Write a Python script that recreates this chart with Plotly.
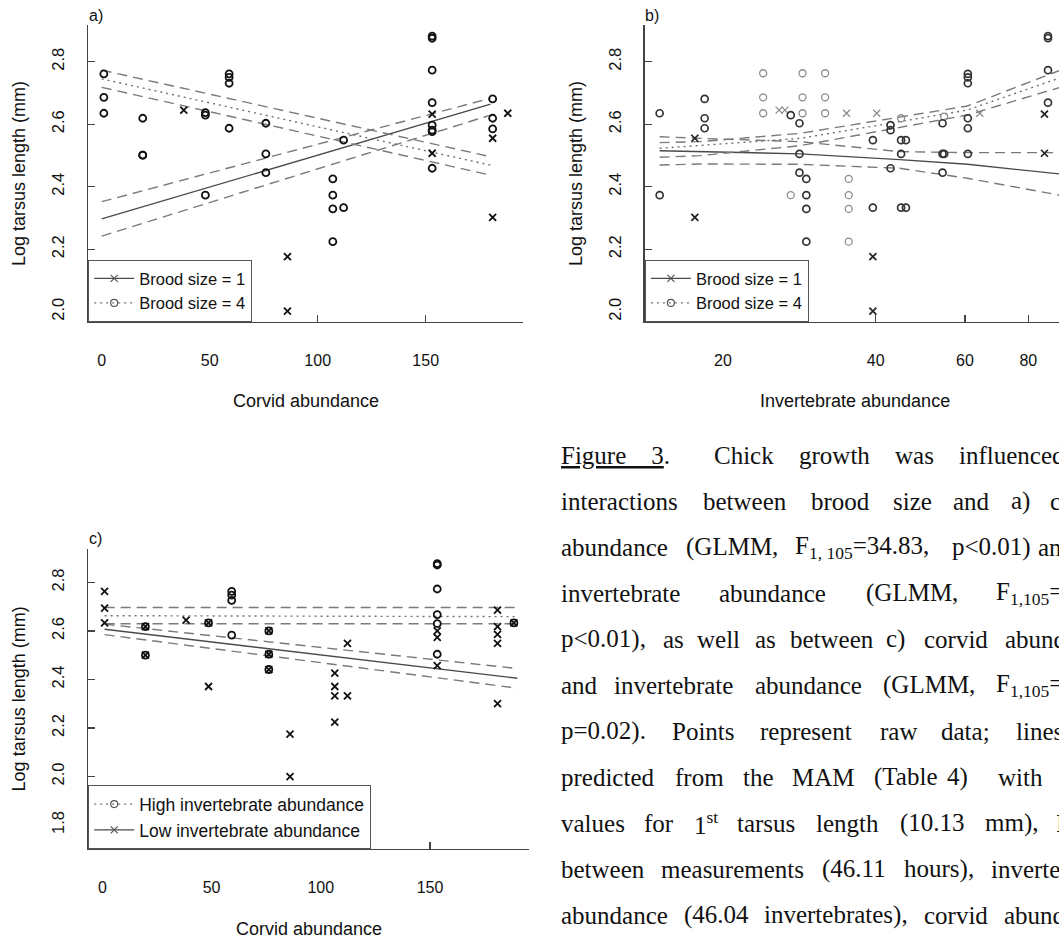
import plotly.graph_objects as go

W, H = 1059, 942
SANS = "Liberation Sans, Arial, sans-serif"
SERIF = "Liberation Serif, Times New Roman, serif"

# ---------------- data: panel a (corvid abundance, by brood size) ----------------
a_b1_x = [38, 86, 86, 153, 153, 181, 181, 188]
a_b1_y = [2.645, 2.176, 2.002, 2.632, 2.507, 2.555, 2.302, 2.635]
a_b4_x = [1, 1, 1, 19, 19, 19, 48, 48, 48, 59, 59, 59, 59, 76, 76, 76,
          107, 107, 107, 107, 112, 112, 153, 153, 153, 153, 153, 153, 153, 153,
          181, 181, 181]
a_b4_y = [2.761, 2.686, 2.635, 2.619, 2.501, 2.501, 2.637, 2.629, 2.373,
          2.761, 2.750, 2.731, 2.587, 2.603, 2.505, 2.445,
          2.425, 2.373, 2.329, 2.224, 2.549, 2.333,
          2.882, 2.875, 2.773, 2.669, 2.597, 2.581, 2.576, 2.459,
          2.681, 2.619, 2.585]
a_fit_x = [0, 180]
a_b1_fit = [2.297, 2.664]
a_b1_hi = [2.352, 2.683]
a_b1_lo = [2.242, 2.629]
a_b4_fit = [2.745, 2.469]
a_b4_hi = [2.773, 2.496]
a_b4_lo = [2.718, 2.437]

# ---------------- data: panel b (invertebrate abundance, by brood size) ----------------
b_o_dark_x = [15.0, 15.0, 18.4, 18.4, 18.4, 28.3, 28.3, 28.3, 29.2, 29.2, 29.2, 29.2, 27.2,
              39.5, 39.5, 42.8, 42.8, 42.8, 44.9, 45.9, 44.9, 44.9, 45.9,
              54.2, 54.2, 54.6, 54.2, 60.8, 60.8, 60.8, 60.8, 60.8, 60.8,
              87.5, 87.5, 87.5, 87.5]
b_o_dark_y = [2.635, 2.373, 2.681, 2.619, 2.587, 2.603, 2.505, 2.445, 2.425, 2.373, 2.329, 2.224, 2.629,
              2.549, 2.333, 2.597, 2.581, 2.459, 2.549, 2.549, 2.505, 2.333, 2.333,
              2.603, 2.505, 2.505, 2.445, 2.761, 2.750, 2.731, 2.619, 2.587, 2.505,
              2.882, 2.875, 2.773, 2.669]
b_o_gray_x = [24.0, 24.0, 24.0, 27.2, 28.7, 28.7, 28.7, 31.8, 31.8, 31.8,
              35.4, 35.4, 35.4, 35.4, 44.9, 54.6]
b_o_gray_y = [2.763, 2.686, 2.635, 2.373, 2.763, 2.686, 2.635, 2.763, 2.686, 2.635,
              2.425, 2.373, 2.329, 2.224, 2.619, 2.624]
b_x_dark_x = [17.6, 17.6, 39.5, 39.5, 86.1, 86.1]
b_x_dark_y = [2.555, 2.302, 2.176, 2.002, 2.632, 2.507]
b_x_gray_x = [25.8, 26.5, 35.05, 40.2, 64.2]
b_x_gray_y = [2.645, 2.645, 2.635, 2.635, 2.635]
b_fit_x = [15, 18, 28.4, 44.6, 60.7, 92]
b_b1_fit = [2.515, 2.512, 2.505, 2.4865, 2.4716, 2.441]
b_b1_hi = [2.560, 2.5547, 2.544, 2.5121, 2.5089, 2.5089]
b_b1_lo = [2.4694, 2.4726, 2.4716, 2.4588, 2.4268, 2.3734]
b_b4_fit = [2.5228, 2.5313, 2.5547, 2.6081, 2.6454, 2.7473]
b_b4_hi = [2.5409, 2.5441, 2.5707, 2.622, 2.6582, 2.7713]
b_b4_lo = [2.494, 2.4993, 2.5312, 2.5889, 2.6294, 2.7169]

# ---------------- data: panel c (corvid abundance, by invertebrate level) ----------------
c_high_x = [19.7, 19.7, 48.6, 59.2, 59.2, 59.2, 59.2, 76.2, 76.2, 76.2,
            153.3, 153.3, 153.3, 153.3, 153.3, 153.3, 188.4]
c_high_y = [2.618, 2.500, 2.633, 2.763, 2.748, 2.726, 2.583, 2.600, 2.504, 2.441,
            2.878, 2.872, 2.773, 2.667, 2.630, 2.504, 2.633]
c_low_x = [1, 1, 1, 19.7, 19.7, 38.3, 48.6, 48.6, 76.2, 76.2, 76.2, 85.9, 85.9,
           106.4, 106.4, 106.4, 106.4, 112.2, 112.2, 153.3, 153.3, 153.3,
           180.9, 180.9, 180.9, 180.9, 180.9, 188.4]
c_low_y = [2.763, 2.694, 2.633, 2.618, 2.500, 2.645, 2.633, 2.371, 2.600, 2.504, 2.441, 2.175, 1.999,
           2.426, 2.371, 2.332, 2.224, 2.549, 2.332, 2.600, 2.574, 2.457,
           2.686, 2.618, 2.586, 2.549, 2.300, 2.633]
c_fit_x = [1, 190]
c_high_fit = [2.663, 2.659]
c_high_hi = [2.697, 2.697]
c_high_lo = [2.630, 2.630]
c_low_fit = [2.607, 2.405]
c_low_hi = [2.628, 2.445]
c_low_lo = [2.585, 2.364]

# ---------------- tick labels ----------------
corvid_ticks = [0, 50, 100, 150]
corvid_ticktext = ["0", "50", "100", "150"]
invert_ticks = [20, 40, 60, 80]
invert_ticktext = ["20", "40", "60", "80"]
y_ticks_ab = [2.0, 2.2, 2.4, 2.6, 2.8]
y_ticktext_ab = ["2.0", "2.2", "2.4", "2.6", "2.8"]
y_ticks_c = [1.8, 2.0, 2.2, 2.4, 2.6, 2.8]
y_ticktext_c = ["1.8", "2.0", "2.2", "2.4", "2.6", "2.8"]

# ---------------- styles ----------------
C_SOLID = "#4a4a4a"
C_DASH = "#7a7a7a"
C_DOT = "#707070"
DASH = "10px,6px"
DOT = "2px,4px"
MK = "#111111"
GRAY_MK = "#8c8c8c"

fig = go.Figure()


def line(x, y, xa, ya, color, dash, width=1.4):
    fig.add_trace(go.Scatter(x=x, y=y, mode="lines", xaxis=xa, yaxis=ya,
                             line=dict(color=color, width=width, dash=dash),
                             showlegend=False, hoverinfo="skip"))


def pts(x, y, xa, ya, symbol, color, lw=1.8, size=7):
    fig.add_trace(go.Scatter(x=x, y=y, mode="markers", xaxis=xa, yaxis=ya,
                             marker=dict(symbol=symbol, size=size, color=color,
                                         line=dict(color=color, width=lw)),
                             showlegend=False, hoverinfo="skip"))


def legend_entry(name, legend, color, dash, symbol):
    fig.add_trace(go.Scatter(x=[None], y=[None], mode="lines+markers", name=name,
                             legend=legend,
                             line=dict(color=color, width=1.3, dash=dash),
                             marker=dict(symbol=symbol, size=7, color="#555555",
                                         line=dict(color="#555555", width=1.2))))


# panel a
line(a_fit_x, a_b1_hi, "x", "y", C_DASH, DASH)
line(a_fit_x, a_b1_lo, "x", "y", C_DASH, DASH)
line(a_fit_x, a_b1_fit, "x", "y", C_SOLID, "solid")
line(a_fit_x, a_b4_hi, "x", "y", C_DASH, DASH)
line(a_fit_x, a_b4_lo, "x", "y", C_DASH, DASH)
line(a_fit_x, a_b4_fit, "x", "y", C_DOT, DOT)
pts(a_b4_x, a_b4_y, "x", "y", "circle-open", MK)
pts(a_b1_x, a_b1_y, "x", "y", "x-thin-open", MK)
legend_entry("Brood size = 1", "legend", C_SOLID, "solid", "x-thin-open")
legend_entry("Brood size = 4", "legend", C_DOT, DOT, "circle-open")

# panel b
line(b_fit_x, b_b1_hi, "x2", "y2", C_DASH, DASH)
line(b_fit_x, b_b1_lo, "x2", "y2", C_DASH, DASH)
line(b_fit_x, b_b1_fit, "x2", "y2", C_SOLID, "solid")
line(b_fit_x, b_b4_hi, "x2", "y2", C_DASH, DASH)
line(b_fit_x, b_b4_lo, "x2", "y2", C_DASH, DASH)
line(b_fit_x, b_b4_fit, "x2", "y2", C_DOT, DOT)
pts(b_o_gray_x, b_o_gray_y, "x2", "y2", "circle-open", GRAY_MK, lw=1.3)
pts(b_x_gray_x, b_x_gray_y, "x2", "y2", "x-thin-open", GRAY_MK, lw=1.3)
pts(b_o_dark_x, b_o_dark_y, "x2", "y2", "circle-open", "#333333", lw=1.7)
pts(b_x_dark_x, b_x_dark_y, "x2", "y2", "x-thin-open", "#222222", lw=1.7)
legend_entry("Brood size = 1", "legend2", C_SOLID, "solid", "x-thin-open")
legend_entry("Brood size = 4", "legend2", C_DOT, DOT, "circle-open")

# panel c
line(c_fit_x, c_high_hi, "x3", "y3", C_DASH, DASH)
line(c_fit_x, c_high_lo, "x3", "y3", C_DASH, DASH)
line(c_fit_x, c_high_fit, "x3", "y3", C_DOT, DOT)
line(c_fit_x, c_low_hi, "x3", "y3", C_DASH, DASH)
line(c_fit_x, c_low_lo, "x3", "y3", C_DASH, DASH)
line(c_fit_x, c_low_fit, "x3", "y3", C_SOLID, "solid")
pts(c_high_x, c_high_y, "x3", "y3", "circle-open", MK)
pts(c_low_x, c_low_y, "x3", "y3", "x-thin-open", MK)
legend_entry("High invertebrate abundance", "legend3", C_DOT, DOT, "circle-open")
legend_entry("Low invertebrate abundance", "legend3", C_SOLID, "solid", "x-thin-open")


def xax(domain, rng, tv, tt, anchor, typ="linear"):
    return dict(domain=domain, range=rng, type=typ, tickmode="array", tickvals=tv, ticktext=tt,
                ticks="inside", ticklen=7, tickwidth=1.2, tickcolor="#444",
                showline=True, linecolor="#444", linewidth=1.4, mirror=False,
                showgrid=False, zeroline=False, anchor=anchor, fixedrange=True,
                tickfont=dict(family=SANS, size=16, color="#111"), ticklabelstandoff=23)


def yax(domain, rng, tv, tt, anchor):
    return dict(domain=domain, range=rng, tickmode="array", tickvals=tv, ticktext=tt,
                ticks="inside", ticklen=7, tickwidth=1.2, tickcolor="#444",
                showline=True, linecolor="#444", linewidth=1.4, mirror=False,
                showgrid=False, zeroline=False, anchor=anchor, fixedrange=True, tickangle=-90,
                tickfont=dict(family=SANS, size=16.5, color="#111"), ticklabelstandoff=16)


def leg(x0, ybot, size):
    return dict(x=x0 / W, y=1 - ybot / H, xanchor="left", yanchor="bottom",
                bordercolor="#555", borderwidth=1.2, bgcolor="white",
                font=dict(family=SANS, size=size, color="#111"), itemwidth=40,
                tracegroupgap=0, traceorder="normal")


ab_ydom = [1 - 322 / H, 1 - 25 / H]
c_ydom = [1 - 849 / H, 1 - 548.5 / H]

annotations = []


def text(s, x, y, size, family=SANS, anchor="left", angle=0):
    annotations.append(dict(text=s, x=x / W, y=1 - y / H, xref="paper", yref="paper",
                            xanchor=anchor, yanchor="middle", showarrow=False, textangle=angle,
                            font=dict(family=family, size=size, color="#111")))


# panel labels and axis titles
text("a)", 87, 16, 16)
text("b)", 643, 16, 16)
text("c)", 87, 538, 16)
text("Corvid abundance", 305.5, 401, 18, anchor="center")
text("Invertebrate abundance", 854.7, 401, 18, anchor="center")
text("Corvid abundance", 308.7, 929, 18, anchor="center")
text("Log tarsus length (mm)", 18.6, 173.5, 18, anchor="center", angle=-90)
text("Log tarsus length (mm)", 575.5, 173.5, 18, anchor="center", angle=-90)
text("Log tarsus length (mm)", 18.6, 698.8, 18, anchor="center", angle=-90)

# caption (justified text, word by word)
caption = [
    (455.3, [("<u>Figure\u00a0\u00a0\u00a0\u00a03</u>.", 558.7), ("Chick", 712.2), ("growth", 796.5),
             ("was", 892.7), ("influenced", 956.8)]),
    (501.3, [("interactions", 558.7), ("between", 701.4), ("brood", 809.4), ("size", 891.0),
             ("and", 951.1), ("a)", 1009.1), ("corvid", 1047.9)]),
    (547.3, [("abundance", 558.7), ("(GLMM,", 683.5), ("F<sub>1, 105</sub>=34.83,", 793.2),
             ("p&lt;0.01)", 950.0), ("and", 1036.1)]),
    (593.3, [("invertebrate", 558.7), ("abundance", 717.2), ("(GLMM,", 864.0),
             ("F<sub>1,105</sub>=", 993.9)]),
    (639.3, [("p&lt;0.01),", 558.7), ("as", 660.9), ("well", 695.3), ("as", 752.7), ("between", 788.1),
             ("c)", 884.3), ("corvid", 922.4), ("abundance", 1003.4)]),
    (685.3, [("and", 558.7), ("invertebrate", 612.0), ("abundance", 752.7), ("(GLMM,", 880.9),
             ("F<sub>1,105</sub>=", 993.9)]),
    (731.3, [("p=0.02).", 558.7), ("Points", 670.0), ("represent", 757.7), ("raw", 877.5),
             ("data;", 939.2), ("lines", 1014.1)]),
    (777.3, [("predicted", 558.7), ("from", 673.4), ("the", 740.9), ("MAM", 789.8), ("(Table", 872.4),
             ("4)", 945.0), ("with", 995.6)]),
    (823.3, [("values", 558.7), ("for", 642.0), ("1<sup>st</sup>", 692.0), ("tarsus", 735.0),
             ("length", 814.0), ("(10.13", 897.5), ("mm),", 982.8), ("I", 1054.0)]),
    (869.3, [("between", 558.7), ("measurements", 659.4), ("(46.11", 819.8), ("hours),", 901.8),
             ("invertebrate", 989.3)]),
    (915.3, [("abundance", 558.7), ("(46.04", 681.7), ("invertebrates),", 762.4), ("corvid", 922.2),
             ("abundance", 1002.2)]),
]
for ypos, words in caption:
    for w, xpos in words:
        text(w, xpos, ypos, 25, family=SERIF)

fig.update_layout(
    width=W, height=H, margin=dict(l=0, r=0, t=0, b=0),
    paper_bgcolor="white", plot_bgcolor="white",
    xaxis=xax([88 / W, 523 / W], [-6.34, 195.05], corvid_ticks, corvid_ticktext, "y"),
    yaxis=yax(ab_ydom, [1.967, 2.9174], y_ticks_ab, y_ticktext_ab, "x"),
    xaxis2=xax([644.7 / W, 1.0], [1.1466, 1.9637], invert_ticks, invert_ticktext, "y2", typ="log"),
    yaxis2=yax(ab_ydom, [1.967, 2.9174], y_ticks_ab, y_ticktext_ab, "x2"),
    xaxis3=xax([88 / W, 529.4 / W], [-6.59, 195.5], corvid_ticks, corvid_ticktext, "y3"),
    yaxis3=yax(c_ydom, [1.701, 2.940], y_ticks_c, y_ticktext_c, "x3"),
    legend=leg(88, 322, 16.5),
    legend2=leg(644.7, 322, 16.5),
    legend3=leg(88, 849, 17.5),
    annotations=annotations,
    showlegend=True,
)

fig.write_html("out.html", config={"displayModeBar": False, "staticPlot": True},
               post_script="document.body.style.margin='0px';document.body.style.overflow='hidden';")
